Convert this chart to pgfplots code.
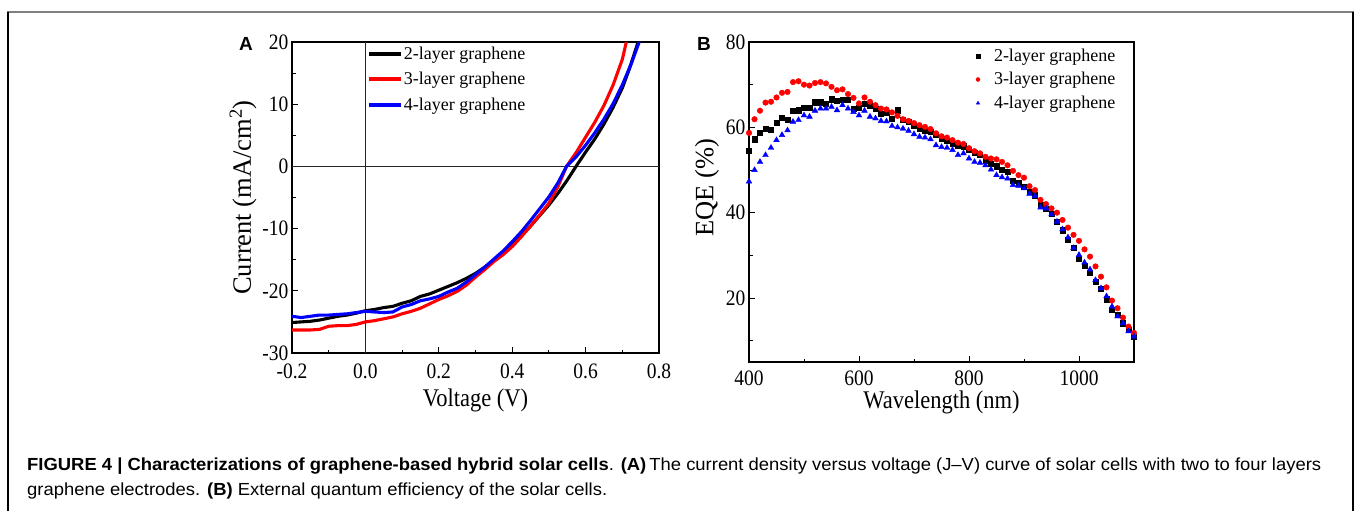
\documentclass[border=0pt]{standalone}
\usepackage{pgfplots}
\usepackage{pgfplotstable}
\pgfplotsset{compat=1.18}
\usepackage{fontspec}
\setmainfont{Liberation Serif}
\newfontfamily\capfont{Liberation Sans}
\usepackage{graphicx}
\newsavebox\capboxA
\newsavebox\capboxB

\pgfplotstableread{
wl s2 s3 s4
400 54.5 58.7 47.3
410 57.2 61.9 50.0
420 58.7 63.9 51.9
430 59.7 65.8 53.5
440 59.5 66.0 55.2
450 61.1 67.0 57.0
460 62.3 68.1 58.2
470 61.7 68.3 59.3
480 63.9 70.6 61.3
490 64.0 70.8 61.7
500 64.6 70.0 62.8
510 64.6 69.8 62.5
520 65.9 70.4 63.9
530 65.9 70.6 64.4
540 65.6 70.3 64.4
550 66.6 69.5 64.8
560 66.2 68.7 64.0
570 66.4 68.9 65.2
580 66.5 67.8 64.4
590 64.4 66.9 63.6
600 64.6 65.6 62.8
610 65.6 67.0 63.9
620 65.2 66.0 62.5
630 64.4 65.2 62.1
640 63.2 64.4 61.5
650 63.4 64.2 61.4
660 62.1 63.5 60.3
670 64.0 62.7 60.0
680 61.7 61.9 59.7
690 61.3 61.5 59.2
700 60.5 61.0 58.4
710 59.7 60.5 57.8
720 59.3 60.1 57.6
730 58.9 59.6 57.2
740 58.2 58.6 55.8
750 57.4 57.9 55.4
760 56.8 57.6 55.2
770 56.2 57.0 54.7
780 55.8 56.4 53.5
790 55.6 56.1 53.9
800 54.7 55.1 52.7
810 54.1 54.4 51.9
820 53.5 53.9 51.7
830 52.3 53.1 51.1
840 51.5 52.7 50.1
850 50.9 52.5 48.8
860 50.1 51.9 48.3
870 49.6 51.1 48.0
880 47.5 49.8 46.5
890 47.0 48.8 46.3
900 46.1 48.2 45.7
910 44.9 46.2 44.4
920 44.1 45.3 43.9
930 41.8 43.0 41.2
940 41.0 42.0 41.0
950 39.7 41.0 39.6
960 37.9 40.0 37.9
970 35.9 38.3 36.1
980 33.6 36.5 34.2
990 31.7 34.8 31.7
1000 29.3 33.4 30.1
1010 27.6 31.4 28.3
1020 26.0 29.7 26.7
1030 23.9 27.4 24.2
1040 22.1 25.0 22.3
1050 19.7 22.5 20.4
1060 17.2 19.4 18.0
1070 16.1 17.6 15.7
1080 14.1 15.4 14.1
1090 12.6 13.3 12.2
1100 11.0 11.8 11.0
}\eqetable

\pgfplotstableread{
v j
-0.2 -25.1
-0.175 -25.0
-0.15 -24.9
-0.125 -24.7
-0.1 -24.4
-0.075 -24.1
-0.05 -23.9
-0.025 -23.6
0.0 -23.2
0.025 -23.0
0.05 -22.7
0.075 -22.5
0.1 -22.0
0.125 -21.6
0.15 -20.9
0.175 -20.5
0.2 -19.9
0.225 -19.3
0.25 -18.7
0.275 -18.0
0.3 -17.2
0.325 -16.2
0.35 -15.1
0.375 -13.9
0.4 -12.6
0.425 -11.1
0.45 -9.6
0.475 -7.9
0.5 -6.2
0.525 -4.3
0.55 -2.2
0.575 0.1
0.6 2.3
0.625 4.4
0.65 6.8
0.675 9.5
0.7 12.6
0.72 15.8
0.743 20
}\jvtwo

\pgfplotstableread{
v j
-0.2 -26.3
-0.175 -26.3
-0.15 -26.3
-0.125 -26.2
-0.1 -25.7
-0.075 -25.6
-0.05 -25.6
-0.025 -25.4
0.0 -25.0
0.025 -24.8
0.05 -24.5
0.075 -24.2
0.1 -23.7
0.125 -23.3
0.15 -22.8
0.175 -22.1
0.2 -21.4
0.225 -20.8
0.25 -20.1
0.275 -19.1
0.3 -17.8
0.325 -16.6
0.35 -15.3
0.375 -14.2
0.4 -12.9
0.425 -11.3
0.45 -9.6
0.475 -7.8
0.5 -5.9
0.525 -3.2
0.548 0
0.575 2.3
0.6 4.7
0.625 7.1
0.65 9.8
0.675 13.1
0.7 17.2
0.711 20
}\jvthree

\pgfplotstableread{
v j
-0.2 -24.1
-0.175 -24.3
-0.15 -24.1
-0.125 -23.9
-0.1 -23.9
-0.075 -23.8
-0.05 -23.7
-0.025 -23.5
0.0 -23.3
0.025 -23.4
0.05 -23.5
0.075 -23.4
0.1 -22.6
0.125 -22.2
0.15 -21.6
0.175 -21.3
0.2 -20.9
0.225 -20.2
0.25 -19.6
0.275 -18.6
0.3 -17.4
0.325 -16.2
0.35 -14.9
0.375 -13.6
0.4 -12.1
0.425 -10.5
0.45 -8.7
0.475 -6.8
0.5 -4.9
0.525 -2.6
0.548 0
0.575 1.6
0.6 3.4
0.625 5.4
0.65 7.6
0.675 10.1
0.7 13.1
0.725 16.6
0.746 20
}\jvfour

\pgfplotsset{
  myaxis/.style={
    scale only axis,
    axis line style={line width=1.2pt},
    every tick/.style={line width=1pt, black},
    major tick length=6pt, minor tick length=3.5pt,
    tick align=inside, tick pos=left,
    tick label style={font=\fontsize{19.5}{22}\selectfont, yscale=1.13},
    label style={font=\fontsize{22.5}{26}\selectfont},
    xlabel style={yscale=1.13},
    ylabel style={font=\fontsize{26.5}{30}\selectfont},
    legend style={font=\fontsize{18}{21}\selectfont, draw=none, fill=none,
      inner sep=0pt, outer sep=0pt, column sep=0pt,
      nodes={inner xsep=1pt, inner ysep=0.3333em}},
    legend cell align=left,
  }
}

\begin{document}
\begin{tikzpicture}[x=1pt,y=1pt]
\useasboundingbox (0,0) rectangle (1354,-511);
\fill[white] (0,0) rectangle (1354,-511);
\draw[line width=2pt, black!50] (7,-12) -- (1354,-12);
\draw[line width=1.2pt] (8,-12) -- (8,-511);
\draw[line width=1.2pt] (1353,-12) -- (1353,-511);

% Panel A
\begin{axis}[myaxis,
  at={(292pt,-353pt)}, anchor=south west,
  width=367pt, height=311pt,
  xmin=-0.2, xmax=0.8, ymin=-30, ymax=20,
  xticklabel style={yshift=-6.5pt},
  xtick={-0.2,0,0.2,0.4,0.6,0.8},
  xticklabels={-0.2,0.0,0.2,0.4,0.6,0.8},
  minor xtick={-0.1,0.1,0.3,0.5,0.7},
  ytick={-30,-20,-10,0,10,20},
  yticklabels={-30,-20,-10,0,10,20},
  minor ytick={-25,-15,-5,5,15},
  xlabel={Voltage (V)},
  ylabel={Current (mA/cm\textsuperscript{2})},
  xlabel style={at={(axis description cs:0.5,-0.151)}, anchor=center},
  ylabel style={at={(axis description cs:-0.1335,0.5)}, anchor=center},
  legend style={at={(axis description cs:0.204,0.995)}, anchor=north west, row sep=4.8pt},
  legend image code/.code={\draw[#1, line width=4pt] (0pt,0pt) -- (32pt,0pt);},
]
\draw[line width=0.9pt, black!85] (axis cs:0,-30) -- (axis cs:0,20);
\draw[line width=0.9pt, black!85] (axis cs:-0.2,0) -- (axis cs:0.8,0);
\addplot[black, line width=3.1pt] table[x=v, y=j] {\jvtwo};
\addlegendentry{2-layer graphene}
\addplot[red, line width=3.1pt] table[x=v, y=j] {\jvthree};
\addlegendentry{3-layer graphene}
\addplot[blue, line width=3.1pt] table[x=v, y=j] {\jvfour};
\addlegendentry{4-layer graphene}
\end{axis}

% Panel B
\begin{axis}[myaxis,
  at={(749pt,-362pt)}, anchor=south west,
  width=385pt, height=320pt,
  xmin=400, xmax=1100, ymin=5, ymax=80,
  xticklabel style={yshift=-4.5pt},
  xtick={400,600,800,1000},
  xticklabels={400,600,800,1000},
  minor xtick={500,700,900,1100},
  ytick={20,40,60,80},
  yticklabels={20,40,60,80},
  minor ytick={10,30,50,70},
  xlabel={Wavelength (nm)},
  ylabel={EQE (\%)},
  xlabel style={at={(axis description cs:0.5,-0.127)}, anchor=center},
  ylabel style={at={(axis description cs:-0.109,0.544)}, anchor=center},
  legend style={at={(axis description cs:0.587,0.989)}, anchor=north west, row sep=3pt},
  legend image code/.code={\path[draw=none,fill=none] (0pt,0pt) -- (18pt,0pt);
    \draw[#1, mark size=2pt] plot coordinates {(3pt,0pt)};},
]
\addplot[only marks, mark=square*, mark size=2.6pt, black] table[x=wl, y=s2] {\eqetable};
\addlegendentry{2-layer graphene}
\addplot[only marks, mark=*, mark size=2.8pt, red] table[x=wl, y=s3] {\eqetable};
\addlegendentry{3-layer graphene}
\addplot[only marks, mark=triangle*, mark size=3.3pt, blue] table[x=wl, y=s4] {\eqetable};
\addlegendentry{4-layer graphene}
\end{axis}

% Panel letters
\node[font=\capfont\bfseries\fontsize{19}{21}\selectfont, inner sep=0] at (246,-43.5) {A};
\node[font=\capfont\bfseries\fontsize{19}{21}\selectfont, inner sep=0] at (704,-44) {B};

% Caption
\node[anchor=base west, inner sep=0] at (27,-470) {%
  \sbox\capboxA{\capfont\fontsize{17.5}{20}\selectfont\textbf{FIGURE 4 | Characterizations of graphene-based hybrid solar cells}. \textbf{(A)}\,The current density versus voltage (J–V) curve of solar cells with two to four layers}%
  \pgfmathsetmacro\capscaleA{1294/\wd\capboxA}%
  \global\let\capscale\capscaleA
  \scalebox{\capscale}[1]{\usebox\capboxA}};
\node[anchor=base west, inner sep=0] at (27,-495) {%
  \sbox\capboxB{\capfont\fontsize{17.5}{20}\selectfont graphene electrodes. \textbf{(B)} External quantum efficiency of the solar cells.}%
  \scalebox{\capscale}[1]{\usebox\capboxB}};
\end{tikzpicture}
\end{document}
